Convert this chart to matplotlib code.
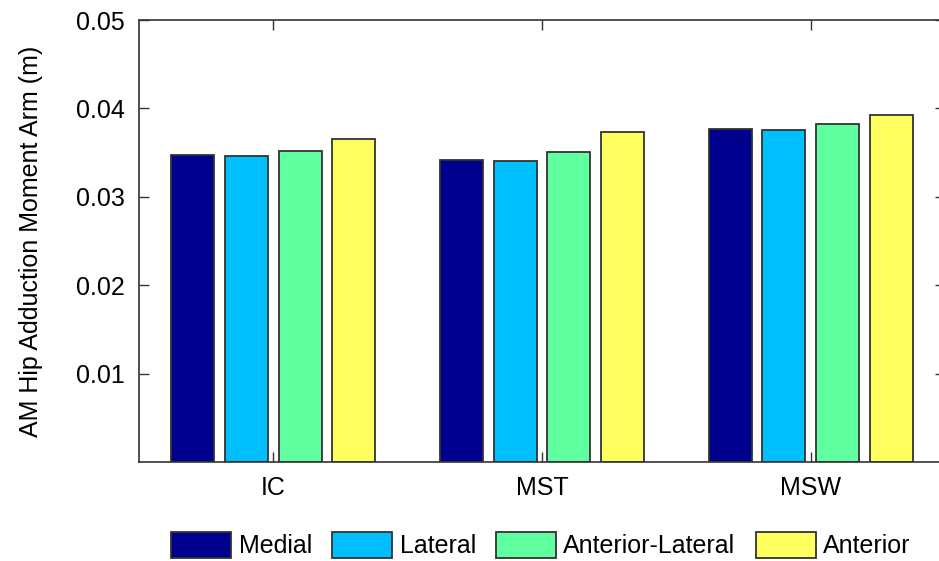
import numpy as np
import matplotlib
matplotlib.use("Agg")
import matplotlib.pyplot as plt

# values
phases = ["IC", "MST", "MSW"]
locations = ["Medial", "Lateral", "Anterior-Lateral", "Anterior"]
medial = [0.0347, 0.0342, 0.0377]
lateral = [0.0346, 0.0340, 0.0376]
ant_lat = [0.0352, 0.0351, 0.0382]
anterior = [0.0365, 0.0373, 0.0393]
yticks = [0.01, 0.02, 0.03, 0.04, 0.05]

colors = ["#00008F", "#00BFFF", "#60FF9F", "#FFFF60"]

plt.rcParams['font.family'] = ['Liberation Sans', 'DejaVu Sans']
fs = 18

fig = plt.figure(figsize=(9.39, 5.61), dpi=100)
ax = fig.add_axes([139 / 939, 99 / 561, 806 / 939, 442 / 561])

x = np.arange(1, len(phases) + 1)
step = 0.2
width = 0.16
series = [medial, lateral, ant_lat, anterior]
for i, (vals, name, c) in enumerate(zip(series, locations, colors)):
    ax.bar(x + (i - 1.5) * step, vals, width, color=c, edgecolor="#333333",
           linewidth=1.3, label=name)

ax.set_xlim(0.5, 3.5)
ax.set_ylim(0, 0.05)
ax.set_xticks(x)
ax.set_xticklabels(phases, fontsize=fs)
ax.set_yticks(yticks)
ax.set_yticklabels([f"{t:.2f}" for t in yticks], fontsize=fs)
ax.tick_params(direction="in", length=7, width=1, color="#333333",
               top=True, right=True, pad=10)
for s in ax.spines.values():
    s.set_color("#333333")
    s.set_linewidth(1.2)
ax.set_ylabel("AM Hip Adduction Moment Arm (m)", fontsize=fs, labelpad=24)

fig.legend(loc="center", bbox_to_anchor=(541 / 939, 1 - 545 / 561), ncol=4,
           frameon=False, fontsize=fs, handlelength=2.4, handleheight=1.2,
           handletextpad=0.3, columnspacing=0.8)

fig.savefig("out.png", dpi=100)
